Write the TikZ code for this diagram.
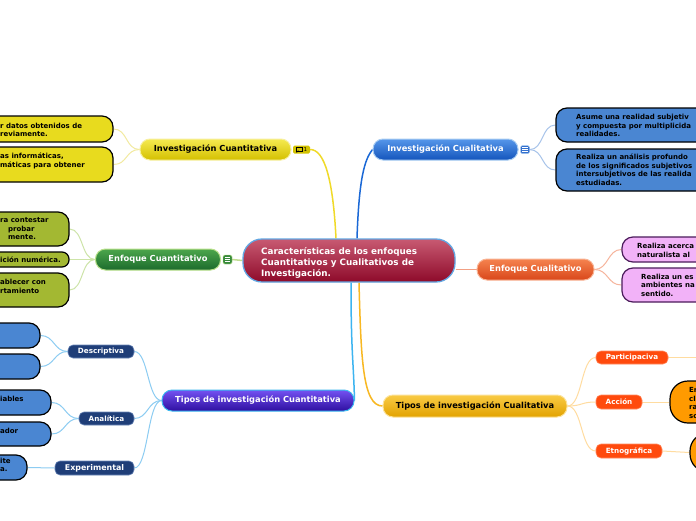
\documentclass[tikz,border=0pt]{standalone}
\usepackage{fontspec}
\setmainfont{DejaVu Sans}
\pgfdeclarelayer{bg}
\pgfsetlayers{bg,main}
\definecolor{cenT}{HTML}{C85A72}
\definecolor{cenB}{HTML}{8E0A2A}
\definecolor{cenD}{HTML}{62A6E2}
\definecolor{yelT}{HTML}{F5EA50}
\definecolor{yelB}{HTML}{D4C000}
\definecolor{yelD}{HTML}{F7F0A0}
\definecolor{grnT}{HTML}{4CA64C}
\definecolor{grnB}{HTML}{1C6B2C}
\definecolor{grnD}{HTML}{B8E08A}
\definecolor{bluT}{HTML}{5596EA}
\definecolor{bluB}{HTML}{1455BC}
\definecolor{bluD}{HTML}{A8CCF2}
\definecolor{oraT}{HTML}{F5834F}
\definecolor{oraB}{HTML}{D9471A}
\definecolor{oraD}{HTML}{F9B495}
\definecolor{purT}{HTML}{7452F2}
\definecolor{purB}{HTML}{2E0FA0}
\definecolor{purD}{HTML}{3BB8F0}
\definecolor{golT}{HTML}{F9CB45}
\definecolor{golB}{HTML}{E2A200}
\definecolor{golD}{HTML}{FCE29A}
\definecolor{navy}{HTML}{1F3E78}
\definecolor{navyD}{HTML}{6A86B8}
\definecolor{redO}{HTML}{FF4A0D}
\definecolor{redOD}{HTML}{FF8A60}
\definecolor{lfYel}{HTML}{E8DB1E}
\definecolor{lfGrn}{HTML}{A3B832}
\definecolor{lfBlu}{HTML}{4A86D2}
\definecolor{lfVio}{HTML}{F2B2F8}
\definecolor{lfVioD}{HTML}{4B1B5B}
\definecolor{lfOra}{HTML}{FF9A00}
\definecolor{cYel}{HTML}{F0DA28}
\definecolor{cYelL}{HTML}{F2EAA0}
\definecolor{cGrn}{HTML}{C0DC90}
\definecolor{cGrnL}{HTML}{CDE4A8}
\definecolor{cBlu}{HTML}{1A68D6}
\definecolor{cBluL}{HTML}{A8C4EA}
\definecolor{cSal}{HTML}{F2A084}
\definecolor{cSalL}{HTML}{F6B49C}
\definecolor{cCya}{HTML}{3CB4F0}
\definecolor{cCyaL}{HTML}{8CCCF2}
\definecolor{cGol}{HTML}{F8B822}
\definecolor{cGolL}{HTML}{FFDCA0}
\newcommand\leaflines[4]{%
  \foreach \lx [count=\li from 0] in {#4} {\node[ltext] (#1\li) at (#2,{#3+8.8*\li}) {\lx};}}
\begin{document}
\begin{tikzpicture}[x=1pt,y=-1pt,
  mainbr/.style={rounded corners=10pt, minimum height=21pt, inner sep=0pt, line width=1pt,
    font=\fontsize{8.3}{10}\selectfont\bfseries},
  subq/.style={rounded corners=5pt, minimum height=13pt, inner sep=0pt, fill=navy, draw=navyD,
    line width=0.6pt, text=white, font=\fontsize{7.2}{8}\selectfont\bfseries},
  subc/.style={rounded corners=5pt, minimum height=13pt, inner sep=0pt, fill=redO, draw=redOD,
    line width=0.6pt, text=white, font=\fontsize{7.2}{8}\selectfont\bfseries},
  leaf/.style={rounded corners=11pt, draw=black, line width=1.2pt, inner sep=0pt},
  ltext/.style={inner sep=0pt, anchor=base west, font=\fontsize{7}{8}\selectfont\bfseries},
  ctext/.style={inner sep=0pt, anchor=base west, text=white, font=\fontsize{8.8}{10}\selectfont\bfseries},
  mainc/.style={line width=1.5pt},
  leafc/.style={line width=1pt},
  icon/.style={inner sep=0pt, minimum width=9pt, minimum height=8pt, rounded corners=1.5pt}
]
\useasboundingbox (0,0) rectangle (696,520);
\clip (0,0) rectangle (696,520);

% central
\node[draw=cenD, line width=1.3pt, rounded corners=19pt, minimum width=212pt, minimum height=43pt,
  inner sep=0pt, top color=cenT, bottom color=cenB] (c) at (349,260.5) {};
\node[ctext] (c1) at (261,254) {Características de los enfoques};
\node[ctext] (c2) at (261,265) {Cuantitativos y Cualitativos de};
\node[ctext] (c3) at (261,276) {Investigación.};

% main branches
\node[mainbr, draw=yelD, top color=yelT, bottom color=yelB, text=black, minimum width=151pt] (iq) at (215.5,149.5) {Investigación Cuantitativa};
\node[mainbr, draw=grnD, top color=grnT, bottom color=grnB, text=white, minimum width=125pt] (ecq) at (158,259.5) {Enfoque Cuantitativo};
\node[mainbr, draw=purD, top color=purT, bottom color=purB, text=white, minimum width=192pt] (tq) at (258,400.5) {Tipos de investigación Cuantitativa};
\node[mainbr, draw=bluD, top color=bluT, bottom color=bluB, text=white, minimum width=145pt] (icl) at (445.5,149.5) {Investigación Cualitativa};
\node[mainbr, draw=oraD, top color=oraT, bottom color=oraB, text=white, minimum width=117pt] (ecl) at (535.5,269.5) {Enfoque Cualitativo};
\node[mainbr, draw=golD, top color=golT, bottom color=golB, text=black, minimum width=184pt, minimum height=22pt] (tcl) at (475,406) {Tipos de investigación Cualitativa};

% icons
\node[icon, fill={rgb,255:red,210;green,194;blue,0}, minimum width=17pt] (iqi) at (301.5,149.5) {};
\draw[line width=0.6pt] (296.3,147.6) rectangle (301.8,150.8);
\draw[line width=0.5pt] (297.3,150.8) -- (296.8,152.2) -- (298.8,150.8);
\node[inner sep=0pt, font=\fontsize{5.5}{6}\selectfont] (iqn) at (305.4,149.6) {1};
\node[icon, fill={rgb,255:red,52;green,112;blue,206}, draw=bluD, line width=0.4pt] (icli) at (525,149.6) {};
\foreach \yy in {147.6,149.6,151.6} \draw[white, line width=0.7pt] (522.3,\yy) -- (527.7,\yy);
\node[icon, fill={rgb,255:red,56;green,138;blue,60}, draw=grnD, line width=0.4pt, minimum height=9pt] (ecqi) at (227.5,259.5) {};
\foreach \yy in {257.5,259.5,261.5} \draw[white, line width=0.7pt] (224.8,\yy) -- (230.2,\yy);

% sub branches
\node[subq, minimum width=66pt] (des) at (101,351.5) {Descriptiva};
\node[subq, minimum width=55pt] (ana) at (106.5,418.5) {Analítica};
\node[subq, minimum width=79pt, minimum height=14pt, font=\fontsize{7.9}{9}\selectfont\bfseries] (exp) at (94.5,468) {Experimental};
\node[subc, minimum width=72pt] (par) at (632,357.5) {Participaciva};
\node[subc, minimum width=46pt, minimum height=14pt] (acc) at (619,402) {Acción};
\node[subc, minimum width=66pt, minimum height=14pt] (etn) at (629,451) {Etnográfica};
\coordinate (parE) at (700,357.5);

% leaves
\node[leaf, fill=lfYel, minimum width=153pt, minimum height=26pt] (iqA) at (36.5,129) {};
\node[leaf, fill=lfYel, minimum width=153pt, minimum height=35pt] (iqB) at (36.5,164.5) {};
\node[leaf, fill=lfGrn, minimum width=109pt, minimum height=34pt] (ecqA) at (14.5,229) {};
\node[leaf, fill=lfGrn, minimum width=109pt, minimum height=15pt, rounded corners=7pt] (ecqB) at (14.5,259.5) {};
\node[leaf, fill=lfGrn, minimum width=109pt, minimum height=34pt] (ecqC) at (14.5,290) {};
\node[leaf, fill=lfBlu, minimum width=80pt, minimum height=25pt] (desA) at (0,335.5) {};
\node[leaf, fill=lfBlu, minimum width=80pt, minimum height=25pt] (desB) at (0,366.5) {};
\node[leaf, fill=lfBlu, minimum width=91pt, minimum height=25pt] (anaA) at (5.5,402.5) {};
\node[leaf, fill=lfBlu, minimum width=91pt, minimum height=24pt] (anaB) at (5.5,434) {};
\node[leaf, fill=lfBlu, minimum width=67pt, minimum height=25pt] (expA) at (-6.5,467.5) {};
\node[leaf, fill=lfBlu, minimum width=204pt, minimum height=34pt] (iclA) at (658,125) {};
\node[leaf, fill=lfBlu, minimum width=204pt, minimum height=42pt] (iclB) at (658,170) {};
\node[leaf, fill=lfVio, draw=lfVioD, minimum width=138pt, minimum height=25pt] (eclA) at (691,249.5) {};
\node[leaf, fill=lfVio, draw=lfVioD, minimum width=138pt, minimum height=34pt] (eclB) at (691,285) {};
\node[leaf, fill=lfOra, minimum width=90pt, minimum height=42pt, rounded corners=18pt] (accA) at (715,402) {};
\node[leaf, fill=lfOra, minimum width=70pt, minimum height=39pt, rounded corners=18pt] (etnA) at (725,452.5) {};

% leaf texts
\leaflines{tiqA}{0}{128}{{r datos obtenidos de},{reviamente.}}
\leaflines{tiqB}{0}{158.3}{{as informáticas,},{máticas para obtener}}
\node[ltext] (tecqA0) at (0,222.3) {ra contestar};
\leaflines{tecqA}{8}{231.1}{{probar},{mente.}}
\node[ltext] (tecqB0) at (0,262.3) {ición numérica.};
\leaflines{tecqC}{0}{284.3}{{ablecer con},{rtamiento}}
\node[ltext] (tanaA0) at (0,401.3) {iables};
\node[ltext] (tanaB0) at (0,433.3) {ador};
\leaflines{texpA}{0}{463}{{ite},{a.}}
\leaflines{ticlA}{576}{119.3}{{Asume una realidad subjetiv},{y compuesta por multiplicida},{realidades.}}
\leaflines{ticlB}{576}{159.3}{{Realiza un análisis profundo},{de los significados subjetivos},{intersubjetivos de las realida},{estudiadas.}}
\leaflines{teclA}{637}{248.3}{{Realiza acerca},{naturalista al}}
\leaflines{teclB}{641}{279}{{Realiza un es},{ambientes na},{sentido.}}
\leaflines{taccA}{689}{392.3}{{En},{cl},{ra},{so}}

% connectors
\begin{pgfonlayer}{bg}
\fill[white] (0,0) rectangle (696,520);
\draw[mainc, cYel] (iqi.east) .. controls +(14,0) and +(-3,-60) .. ([xshift=-13pt]c.north);
\draw[mainc, cBlu] ([xshift=8pt]c.north) .. controls +(2,-60) and +(-8,10) .. (icl.west);
\draw[mainc, cGrn] (ecqi.east) -- (c.west);
\draw[mainc, cSal] ([yshift=-9pt]c.east) -- (ecl.west);
\draw[mainc, cCya] ([xshift=2pt]c.south) .. controls +(0,70) and +(-1,-40) .. (tq.east);
\draw[mainc, cGol] ([xshift=10pt]c.south) .. controls +(2,75) and +(-20,0) .. (tcl.west);

\draw[leafc, cYelL] (iq.west) .. controls +(-14,0) and +(14,0) .. (iqA.east);
\draw[leafc, cYelL] (iq.west) .. controls +(-14,0) and +(14,0) .. (iqB.east);
\draw[leafc, cGrnL] (ecq.west) .. controls +(-14,0) and +(14,0) .. (ecqA.east);
\draw[leafc, cGrnL] (ecq.west) -- (ecqB.east);
\draw[leafc, cGrnL] (ecq.west) .. controls +(-14,0) and +(14,0) .. (ecqC.east);
\draw[leafc, cCyaL] (tq.west) .. controls +(-14,0) and +(14,0) .. (des.east);
\draw[leafc, cCyaL] (tq.west) .. controls +(-14,0) and +(14,0) .. (ana.east);
\draw[leafc, cCyaL] (tq.west) .. controls +(-14,0) and +(14,0) .. (exp.east);
\draw[leafc, cCyaL] (des.west) .. controls +(-14,0) and +(14,0) .. (desA.east);
\draw[leafc, cCyaL] (des.west) .. controls +(-14,0) and +(14,0) .. (desB.east);
\draw[leafc, cCyaL] (ana.west) .. controls +(-14,0) and +(14,0) .. (anaA.east);
\draw[leafc, cCyaL] (ana.west) .. controls +(-14,0) and +(14,0) .. (anaB.east);
\draw[leafc, cCyaL] (exp.west) -- (expA.east);
\draw[leafc, cBluL] (icli.east) .. controls +(14,0) and +(-14,0) .. (iclA.west);
\draw[leafc, cBluL] (icli.east) .. controls +(14,0) and +(-14,0) .. (iclB.west);
\draw[leafc, cSalL] (ecl.east) .. controls +(14,0) and +(-14,0) .. (eclA.west);
\draw[leafc, cSalL] (ecl.east) .. controls +(14,0) and +(-14,0) .. (eclB.west);
\draw[leafc, cGolL] (tcl.east) .. controls +(15,0) and +(-15,0) .. (par.west);
\draw[leafc, cGolL] (tcl.east) .. controls +(15,0) and +(-15,0) .. (acc.west);
\draw[leafc, cGolL] (tcl.east) .. controls +(15,0) and +(-15,0) .. (etn.west);
\draw[leafc, cGolL] (par.east) -- (parE);
\draw[leafc, cGolL] (acc.east) -- (accA.west);
\draw[leafc, cGolL] (etn.east) -- (etnA.west);
\end{pgfonlayer}
\end{tikzpicture}
\end{document}
